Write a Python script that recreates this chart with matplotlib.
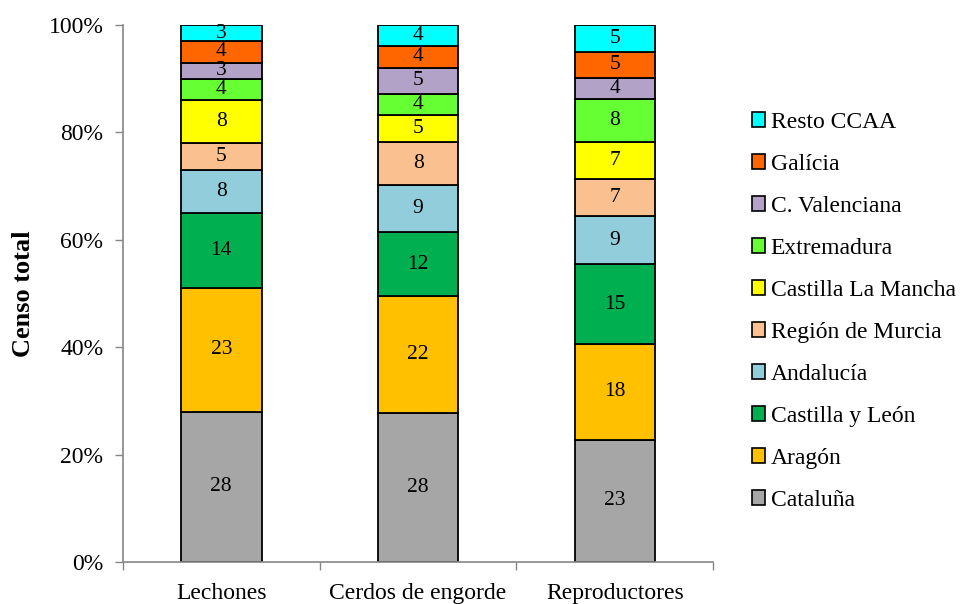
import matplotlib.pyplot as plt
import numpy as np
from matplotlib.patches import Patch

plt.rcParams['font.family'] = ['Liberation Serif', 'DejaVu Serif']

categories = ['Lechones', 'Cerdos de engorde', 'Reproductores']
regions = ['Cataluña', 'Aragón', 'Castilla y León', 'Andalucía', 'Región de Murcia',
           'Castilla La Mancha', 'Extremadura', 'C. Valenciana', 'Galícia', 'Resto CCAA']

cataluna = [28, 28, 23]
aragon = [23, 22, 18]
castilla_leon = [14, 12, 15]
andalucia = [8, 9, 9]
murcia = [5, 8, 7]
castilla_mancha = [8, 5, 7]
extremadura = [4, 4, 8]
valenciana = [3, 5, 4]
galicia = [4, 4, 5]
resto = [3, 4, 5]

colors = ['#A6A6A6', '#FFC000', '#00B050', '#92CDDC', '#FAC090',
          '#FFFF00', '#66FF33', '#B3A2C7', '#FF6600', '#00FFFF']

series = np.array([cataluna, aragon, castilla_leon, andalucia, murcia,
                   castilla_mancha, extremadura, valenciana, galicia, resto], dtype=float)
shares = series / series.sum(axis=0) * 100

fig = plt.figure(figsize=(9.6, 6.04), dpi=100)
ax = fig.add_axes([0.128, 0.0695, 0.615, 0.889])

x = np.arange(len(categories))
bottom = np.zeros(len(categories))
for vals, share, col in zip(series, shares, colors):
    ax.bar(x, share, bottom=bottom, width=0.41, color=col, edgecolor='black', linewidth=1.3)
    for xi, v, s, b in zip(x, vals, share, bottom):
        ax.text(xi, b + s / 2, f'{v:.0f}', ha='center', va='center', fontsize=15.5)
    bottom += share

ax.set_xlim(-0.5, len(categories) - 0.5)
ax.set_ylim(0, 100)
ax.set_yticks(np.arange(0, 101, 20))
ax.set_yticklabels([f'{t}%' for t in range(0, 101, 20)], fontsize=17)
ax.set_xticks(x)
ax.set_xticklabels(categories, fontsize=17)
ax.set_xticks(np.arange(-0.5, len(categories)), minor=True)
ax.tick_params(axis='x', which='major', length=0, pad=15)
ax.tick_params(axis='x', which='minor', length=6, color='#868686', width=1)
ax.tick_params(axis='y', length=6, color='#868686', width=1, pad=8)
for side in ['top', 'right']:
    ax.spines[side].set_visible(False)
for side in ['left', 'bottom']:
    ax.spines[side].set_color('#868686')
    ax.spines[side].set_linewidth(1.2)

ax.set_ylabel('Censo total', fontsize=19, fontweight='bold', labelpad=10)

handles = [Patch(facecolor=c, edgecolor='black', linewidth=1.2) for c in colors]
ax.legend(handles[::-1], regions[::-1], loc='center left', bbox_to_anchor=(1.065, 0.467),
          frameon=False, fontsize=17, handlelength=0.58, handleheight=0.58,
          handletextpad=0.22, labelspacing=0.89, borderaxespad=0, borderpad=0)

fig.savefig('out.png', dpi=100)
